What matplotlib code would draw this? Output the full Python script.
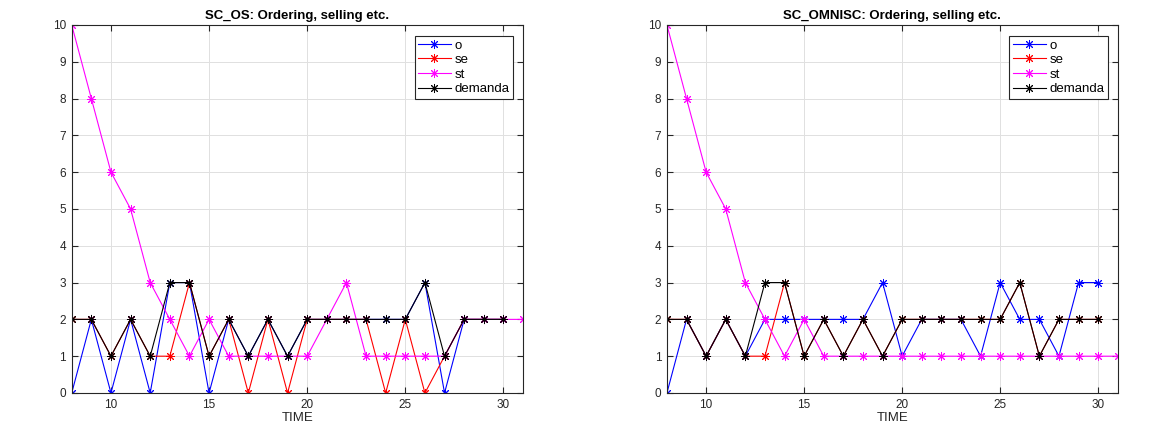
import matplotlib
matplotlib.use("Agg")
import matplotlib.pyplot as plt

plt.rcParams['font.family'] = ['Liberation Sans', 'DejaVu Sans']

time = list(range(8, 31))          # 8..30
time_st = list(range(8, 32))       # 8..31

demanda = [2, 2, 1, 2, 1, 3, 3, 1, 2, 1, 2, 1, 2, 2, 2, 2, 2, 2, 3, 1, 2, 2, 2]

os_o  = [0, 2, 0, 2, 0, 3, 3, 0, 2, 1, 2, 1, 2, 2, 2, 2, 2, 2, 3, 0, 2, 2, 2]
os_se = [2, 2, 1, 2, 1, 1, 3, 1, 2, 0, 2, 0, 2, 2, 2, 2, 0, 2, 0, 1, 2, 2, 2]
os_st = [10, 8, 6, 5, 3, 2, 1, 2, 1, 1, 1, 1, 1, 2, 3, 1, 1, 1, 1, 1, 2, 2, 2, 2]

om_o  = [0, 2, 1, 2, 1, 2, 2, 2, 2, 2, 2, 3, 1, 2, 2, 2, 1, 3, 2, 2, 1, 3, 3]
om_se = [2, 2, 1, 2, 1, 1, 3, 1, 2, 1, 2, 1, 2, 2, 2, 2, 2, 2, 3, 1, 2, 2, 2]
om_st = [10, 8, 6, 5, 3, 2, 1, 2, 1, 1, 1, 1, 1, 1, 1, 1, 1, 1, 1, 1, 1, 1, 1, 1]

titles = ["SC_OS: Ordering, selling etc.", "SC_OMNISC: Ordering, selling etc."]
panels = [(os_o, os_se, os_st), (om_o, om_se, om_st)]
labels = ["o", "se", "st", "demanda"]
colors = ["#0000ff", "#ff0000", "#ff00ff", "#000000"]

fig = plt.figure(figsize=(11.68, 4.32), dpi=100)
positions = [[0.0614, 0.0903, 0.3864, 0.852], [0.571, 0.0903, 0.386, 0.852]]

mk = (8, 2, 0)
style = dict(marker=mk, ms=6.5, mew=0.7, lw=0.8)
for pos, title, (o, se, st) in zip(positions, titles, panels):
    ax = fig.add_axes(pos)
    ax.plot(time, o, color=colors[0], label=labels[0], **style)
    ax.plot(time, se, color=colors[1], label=labels[1], **style)
    ax.plot(time_st, st, color=colors[2], label=labels[2], **style)
    ax.plot(time, demanda, color=colors[3], label=labels[3], **style)
    ax.set_xlim(8, 31)
    ax.set_ylim(0, 10)
    ax.set_xticks([10, 15, 20, 25, 30])
    ax.set_yticks(range(0, 11))
    ax.grid(True, color='#e0e0e0', lw=0.7)
    ax.set_axisbelow(True)
    ax.tick_params(direction='in', length=4, labelsize=8.5, colors='#262626',
                   top=True, right=True, pad=4)
    for s in ax.spines.values():
        s.set_color('#262626')
        s.set_linewidth(0.8)
    ax.set_title(title, fontsize=9.5, fontweight='bold', pad=4)
    ax.set_xlabel("TIME", fontsize=9.5, labelpad=1, color='#262626')
    leg = ax.legend(loc='upper right', bbox_to_anchor=(0.978, 0.97), fontsize=9.5,
                    fancybox=False, framealpha=1, edgecolor='#262626',
                    handlelength=2.5, borderpad=0.25, labelspacing=0.18,
                    handletextpad=0.3, borderaxespad=0)
    leg.get_frame().set_linewidth(0.8)

fig.savefig("out.png", dpi=100)
